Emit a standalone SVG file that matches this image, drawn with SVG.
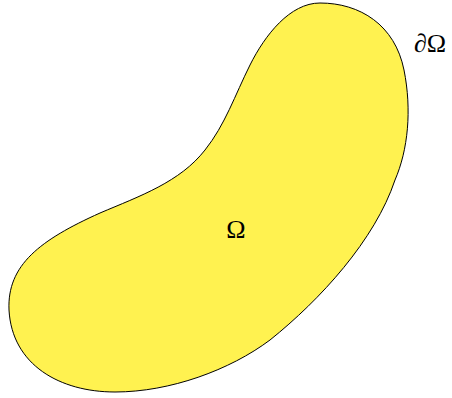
<svg xmlns="http://www.w3.org/2000/svg" width="452" height="398" viewBox="0 0 452 398">
<style>
.lbl{font-family:"Liberation Serif","DejaVu Serif",serif;font-size:26px;fill:#000}
.dom{fill:#fff250;stroke:#000;stroke-width:1}
</style>
<rect width="452" height="398" fill="#fff"/>
<g id="domain">
<path class="dom" d="M 320 3 C 360 3, 395 25, 404 70 C 412 110, 408 150, 395 180 C 375 240, 320 300, 270 340 C 230 370, 170 392, 115 392 C 60 392, 12 365, 9 310 C 7 265, 40 240, 100 213 C 140 196, 180 182, 205 150 C 225 125, 235 95, 250 65 C 265 35, 290 3, 320 3 Z"/>
<text class="lbl" x="236" y="238" text-anchor="middle">Ω</text>
</g>
<g id="boundary-label">
<text class="lbl" x="414" y="52">∂Ω</text>
</g>
</svg>
